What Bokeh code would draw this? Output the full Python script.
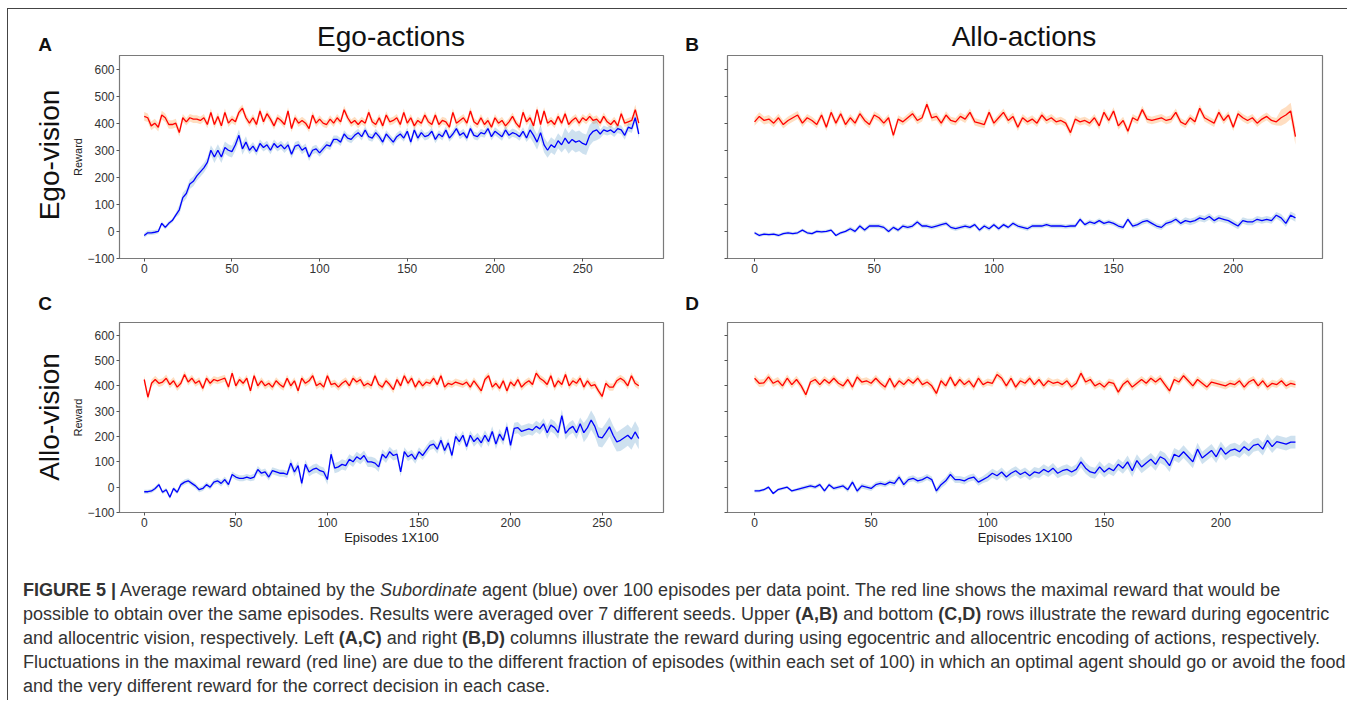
import numpy as np
from bokeh.plotting import figure
from bokeh.models import FixedTicker, Div, Range1d
from bokeh.layouts import column, row
from bokeh.embed import file_html
from bokeh.resources import INLINE

STEP = 2  # episodes (x100) between the values

# ---------------- Panel A: Ego-vision / Ego-actions ----------------
a_red = [425, 420, 390, 400, 385, 430, 420, 395, 395, 400,
         365, 420, 405, 420, 415, 415, 410, 420, 395, 440,
         395, 425, 390, 440, 400, 415, 405, 440, 455, 420,
         400, 420, 395, 445, 405, 435, 415, 390, 420, 410,
         395, 445, 380, 420, 400, 410, 400, 380, 430, 400,
         415, 400, 395, 415, 400, 420, 405, 450, 420, 400,
         410, 395, 410, 400, 440, 405, 395, 420, 390, 430,
         405, 410, 420, 395, 440, 400, 420, 390, 410, 400,
         430, 405, 395, 430, 395, 410, 405, 385, 440, 400,
         410, 420, 400, 445, 405, 395, 420, 395, 410, 385,
         420, 400, 410, 390, 405, 425, 400, 385, 440, 405,
         420, 390, 450, 395, 445, 400, 410, 395, 425, 400,
         435, 395, 410, 420, 400, 420, 410, 425, 410, 415,
         400, 425, 405, 395, 410, 390, 435, 400, 405, 410,
         450, 400]
a_blue = [-15, -5, -5, -3, 0, 30, 15, 30, 40, 60,
          80, 125, 140, 175, 185, 205, 220, 235, 255, 300,
          275, 300, 275, 310, 300, 295, 320, 355, 305, 330,
          300, 315, 295, 325, 310, 320, 300, 325, 310, 320,
          305, 320, 285, 315, 320, 300, 310, 275, 300, 305,
          290, 305, 320, 315, 340, 340, 330, 360, 345, 340,
          355, 365, 350, 375, 350, 345, 365, 350, 330, 360,
          345, 330, 350, 360, 345, 370, 330, 375, 345, 365,
          350, 355, 370, 340, 360, 350, 375, 345, 360, 380,
          355, 365, 345, 380, 355, 350, 365, 360, 380, 350,
          370, 360, 350, 375, 355, 365, 360, 350, 370, 345,
          375, 355, 330, 365, 320, 300, 320, 310, 335, 320,
          345, 325, 340, 330, 335, 325, 320, 355, 370, 375,
          360, 375, 370, 375, 365, 380, 375, 355, 385, 380,
          420, 360]
a_red_sd = [16, 14, 14, 14, 14, 14, 14, 14, 14, 14, 14, 14, 14, 14, 18]
a_blue_sd = [8, 18, 22, 15, 15, 14, 14, 14, 14, 14, 15, 28, 38, 16, 18]

# ---------------- Panel B: Ego-vision / Allo-actions ----------------
b_red = [405, 425, 410, 415, 400, 420, 395, 410, 420, 430,
         400, 420, 410, 395, 430, 385, 440, 400, 435, 395,
         420, 400, 435, 410, 395, 430, 420, 400, 420, 355,
         415, 405, 420, 435, 410, 420, 470, 420, 425, 400,
         430, 410, 405, 425, 415, 440, 405, 400, 395, 440,
         400, 420, 440, 410, 425, 385, 420, 405, 415, 400,
         430, 410, 420, 405, 410, 400, 365, 415, 405, 410,
         400, 420, 390, 440, 410, 445, 390, 410, 370, 420,
         410, 450, 415, 410, 415, 420, 410, 415, 440, 405,
         395, 420, 405, 455, 420, 410, 400, 440, 410, 430,
         385, 435, 420, 410, 420, 400, 415, 425, 410, 405,
         420, 430, 445, 350]
b_blue = [-5, -15, -10, -12, -10, -15, -8, -5, -8, -5,
          5, -5, -8, 0, -2, 0, 5, -15, -5, 0,
          10, 0, 20, 5, 20, 20, 20, 15, 0, 15,
          5, 20, 15, 20, 35, 20, 20, 15, 20, 25,
          30, 15, 10, 15, 20, 15, 25, 5, 20, 10,
          25, 10, 25, 15, 30, 20, 15, 10, 20, 20,
          20, 25, 20, 20, 20, 18, 20, 20, 45, 25,
          35, 30, 40, 30, 35, 30, 20, 15, 45, 20,
          25, 35, 40, 30, 20, 15, 30, 35, 45, 30,
          40, 35, 40, 50, 45, 55, 40, 50, 45, 40,
          30, 20, 40, 35, 35, 45, 40, 45, 40, 60,
          50, 30, 60, 50]
b_red_sd = [15, 14, 14, 14, 14, 14, 14, 14, 14, 14, 14, 30]
b_blue_sd = [6, 6, 8, 8, 8, 8, 8, 9, 10, 12, 12, 14]

# ---------------- Panel C: Allo-vision / Ego-actions ----------------
c_red = [425, 355, 410, 425, 410, 415, 430, 405, 420, 395,
         410, 445, 415, 430, 410, 420, 390, 430, 410, 425,
         420, 425, 430, 395, 450, 400, 425, 410, 430, 380,
         440, 400, 420, 400, 410, 395, 420, 405, 395, 430,
         400, 420, 380, 430, 410, 420, 440, 400, 410, 395,
         440, 405, 410, 395, 410, 420, 400, 430, 415, 425,
         400, 410, 400, 440, 405, 395, 420, 405, 385, 425,
         400, 440, 410, 430, 395, 420, 400, 415, 410, 430,
         405, 440, 395, 410, 405, 415, 410, 405, 415, 395,
         420, 400, 380, 425, 440, 395, 410, 390, 420, 380,
         415, 400, 425, 395, 410, 420, 405, 450, 430, 420,
         405, 440, 395, 420, 405, 445, 400, 420, 410, 430,
         395, 420, 400, 405, 380, 358, 410, 395, 395, 420,
         430, 420, 400, 440, 410, 400]
c_blue = [-18, -18, -15, -5, 10, -20, -10, -40, -5, -20,
          10, 20, 25, 15, 5, -10, -5, 10, 0, 20,
          25, 15, 30, 10, 50, 40, 35, 35, 40, 35,
          40, 70, 55, 60, 40, 65, 60, 55, 55, 50,
          95, 60, 85, 15, 90, 60, 70, 75, 65, 60,
          30, 130, 75, 80, 90, 85, 110, 100, 120, 110,
          125, 100, 100, 95, 80, 130, 115, 140, 125, 130,
          60, 140, 120, 130, 110, 140, 125, 145, 165, 170,
          150, 185, 145, 175, 125, 200, 180, 205, 160, 205,
          180, 195, 175, 205, 180, 220, 170, 210, 185, 238,
          165, 232, 235, 220, 225, 230, 225, 240, 230, 250,
          215, 245, 235, 215, 282, 212, 230, 240, 215, 250,
          215, 235, 265, 240, 199, 195, 215, 238, 205, 179,
          185, 195, 205, 190, 218, 192]
c_red_sd = [15, 14, 14, 14, 14, 14, 14, 14, 14, 14, 14, 15, 14, 14]
c_blue_sd = [8, 10, 12, 14, 18, 20, 20, 18, 18, 20, 22, 25, 38, 42]

# ---------------- Panel D: Allo-vision / Allo-actions ----------------
d_red = [430, 410, 412, 435, 410, 420, 400, 430, 405, 425,
         400, 365, 415, 425, 405, 425, 410, 430, 410, 400,
         425, 395, 435, 415, 420, 410, 430, 410, 395, 430,
         395, 420, 405, 425, 410, 430, 405, 415, 400, 370,
         420, 400, 435, 400, 425, 405, 420, 395, 430, 405,
         415, 410, 445, 430, 400, 430, 395, 420, 410, 430,
         405, 425, 400, 420, 410, 415, 405, 420, 395, 410,
         450, 415, 425, 400, 410, 395, 415, 410, 375, 405,
         420, 395, 410, 425, 410, 430, 415, 430, 405, 380,
         425, 415, 440, 420, 400, 425, 410, 395, 415, 410,
         405, 400, 410, 405, 420, 395, 415, 425, 400, 420,
         395, 410, 405, 420, 400, 410, 405]
d_blue = [-15, -15, -10, 0, -25, -10, -5, 0, -15, -10,
          -5, 0, 5, 0, 10, -15, 10, -5, 0, 5,
          -10, 20, -15, 5, 0, -5, 10, 15, 10, 20,
          15, 40, 10, 30, 35, 25, 30, 40, 30, -15,
          10, 25, 50, 30, 30, 25, 35, 40, 20, 30,
          40, 55, 45, 60, 40, 55, 65, 50, 60, 45,
          60, 55, 70, 60, 75, 55, 65, 70, 60, 70,
          100, 75, 60, 55, 80, 60, 75, 65, 90, 75,
          100, 65, 105, 80, 95, 110, 90, 120, 110, 85,
          130, 120, 140, 120, 100, 150, 115, 130, 145, 120,
          155, 130, 145, 150, 140, 160, 145, 165, 170, 150,
          185, 160, 180, 175, 170, 178, 178]
d_red_sd = [15, 14, 14, 14, 14, 14, 14, 14, 14, 14, 14, 14]
d_blue_sd = [6, 8, 10, 12, 14, 18, 20, 22, 25, 25, 25, 25]

y_ticks = [-100, 0, 100, 200, 300, 400, 500, 600]
x_ticks = [0, 50, 100, 150, 200, 250]

col_titles = ["Ego-actions", "Allo-actions"]
row_titles = ["Ego-vision", "Allo-vision"]
letters = ["A", "B", "C", "D"]
x_label = "Episodes 1X100"
y_label = "Reward"

FONT = "Liberation Sans"


def expand(blocks, n):
    arr = np.repeat(np.array(blocks, dtype=float), 10)
    if len(arr) < n:
        arr = np.concatenate([arr, np.full(n - len(arr), float(blocks[-1]))])
    return arr[:n]


def panel(red, blue, red_sd, blue_sd, W, H, bl, br, bt, bb, show_ylab, xlabel):
    red = np.array(red, dtype=float)
    blue = np.array(blue, dtype=float)
    xr = np.arange(len(red)) * STEP
    xb = np.arange(len(blue)) * STEP
    xmax = max(xr[-1], xb[-1])
    p = figure(width=W, height=H, output_backend="svg", toolbar_location=None,
               x_range=Range1d(-0.05 * xmax, 1.05 * xmax), y_range=Range1d(-100, 650),
               min_border_left=bl, min_border_right=br, min_border_top=bt, min_border_bottom=bb)
    p.xgrid.visible = False
    p.ygrid.visible = False
    p.outline_line_color = "#7a7a7a"
    p.outline_line_width = 1.2
    p.background_fill_color = "white"
    p.border_fill_color = "white"

    rs = expand(red_sd, len(red))
    bs = expand(blue_sd, len(blue))
    p.varea(x=xr, y1=red - rs, y2=red + rs, fill_color="#ff7f0e", fill_alpha=0.26)
    p.varea(x=xb, y1=blue - bs, y2=blue + bs, fill_color="#1f77b4", fill_alpha=0.22)
    p.line(xr, red, line_color="#ff0000", line_width=1.3)
    p.line(xb, blue, line_color="#0000ff", line_width=1.3)

    for ax in (p.xaxis[0], p.yaxis[0]):
        ax.axis_line_color = "#7a7a7a"
        ax.major_tick_line_color = "#555555"
        ax.major_tick_out = 3
        ax.major_tick_in = 0
        ax.minor_tick_line_color = None
        ax.major_label_text_font = FONT
        ax.major_label_text_font_size = "12px"
        ax.major_label_text_color = "#333333"
        ax.major_label_standoff = 2
        ax.axis_label_text_font = FONT
        ax.axis_label_text_font_style = "normal"
        ax.axis_label_text_color = "#222222"
    p.xaxis.ticker = FixedTicker(ticks=x_ticks)
    p.yaxis.ticker = FixedTicker(ticks=y_ticks)
    p.yaxis.major_label_overrides = {-100: "\u2212100"}
    if show_ylab:
        p.yaxis.axis_label = y_label
        p.yaxis.axis_label_text_font_size = "11px"
        p.yaxis.axis_label_standoff = 0
    else:
        p.yaxis.major_label_text_color = None
    if xlabel:
        p.xaxis.axis_label = xlabel
        p.xaxis.axis_label_text_font_size = "13px"
        p.xaxis.axis_label_standoff = 0
    return p


def span(txt, x, y, size, weight="normal", rotate=False):
    tr = "translate(-50%,-50%)" + (" rotate(-90deg)" if rotate else "")
    return (f'<span style="position:absolute;left:{x}px;top:{y}px;transform:{tr};'
            f'font-size:{size}px;font-weight:{weight};white-space:nowrap;line-height:1;'
            f'color:#111;">{txt}</span>')


def box(w, h, inner):
    return Div(width=w, height=h, margin=0,
               text=(f'<div style="position:relative;width:{w}px;height:{h}px;'
                     f'font-family:\'{FONT}\',sans-serif;">' + inner + '</div>'))


# content origin is at page (8, 9)
head1 = box(1339, 44, span(letters[0], 37, 35, 19, "bold") + span(col_titles[0], 383, 28, 28)
            + span(letters[1], 684, 35, 19, "bold") + span(col_titles[1], 1016, 28, 28))
side1 = box(60, 232, span(row_titles[0], 42, 102, 28, rotate=True))
pA = panel(a_red, a_blue, a_red_sd, a_blue_sd, 612, 232, 51, 17, 2, 27, True, None)
pB = panel(b_red, b_blue, b_red_sd, b_blue_sd, 667, 232, 47, 25, 2, 27, False, None)

head2 = box(1339, 32, span(letters[2], 37, 18, 19, "bold") + span(letters[3], 684, 18, 19, "bold"))
side2 = box(60, 233, span(row_titles[1], 42, 100, 28, rotate=True))
pC = panel(c_red, c_blue, c_red_sd, c_blue_sd, 612, 233, 51, 17, 5, 38, True, x_label)
pD = panel(d_red, d_blue, d_red_sd, d_blue_sd, 667, 233, 47, 25, 5, 38, False, x_label)

caption_lines = [
    "<b>FIGURE 5 |</b> Average reward obtained by the <i>Subordinate</i> agent (blue) over 100 episodes per data point. The red line shows the maximal reward that would be",
    "possible to obtain over the same episodes. Results were averaged over 7 different seeds. Upper <b>(A,B)</b> and bottom <b>(C,D)</b> rows illustrate the reward during egocentric",
    "and allocentric vision, respectively. Left <b>(A,C)</b> and right <b>(B,D)</b> columns illustrate the reward during using egocentric and allocentric encoding of actions, respectively.",
    "Fluctuations in the maximal reward (red line) are due to the different fraction of episodes (within each set of 100) in which an optimal agent should go or avoid the food",
    "and the very different reward for the correct decision in each case.",
]
cap_html = ('<div style="font-family: \'Liberation Sans\', sans-serif; font-size: 18px; '
            'line-height: 24px; color: #333; white-space: nowrap; padding: 28px 0 0 15px;">'
            + "<br>".join(caption_lines) + "</div>")
cap = Div(text=cap_html, width=1339, height=150, margin=0)

layout = column(head1, row(side1, pA, pB), head2, row(side2, pC, pD), cap,
                styles={"margin-left": "7px", "margin-top": "8px",
                        "border-top": "1px solid #444", "border-left": "1px solid #444"})

open("out.html", "w").write(file_html(layout, INLINE))
